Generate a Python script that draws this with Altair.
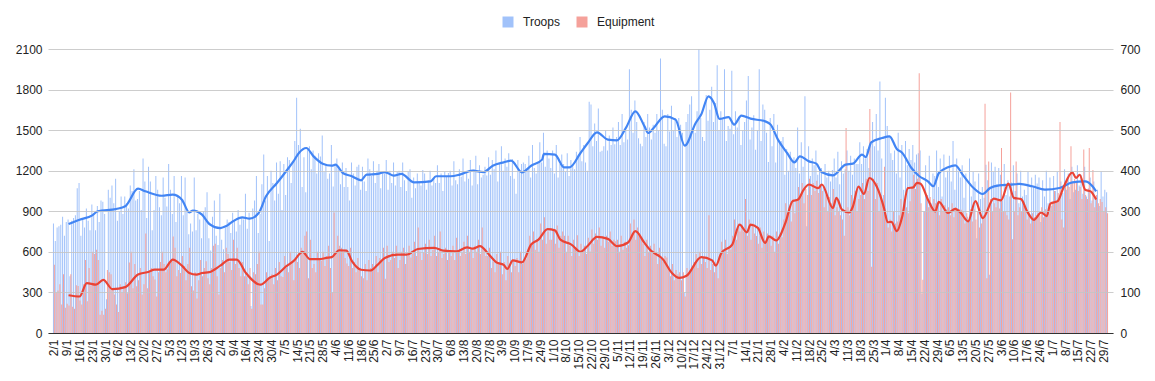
import altair as alt
import pandas as pd

# Daily values, 2 Jan 2024 .. 31 Jul 2025 (one row per week in the listing)
troops = [
    810, 680, 780, 790, 800, 860, 720,
    820, 840, 420, 830, 850, 870, 1070,
    1110, 720, 840, 780, 920, 830, 760,
    950, 870, 760, 940, 820, 980, 970,
    880, 250, 1060, 1000, 1090, 960, 1140,
    830, 900, 1010, 880, 1010, 960, 920,
    1090, 1050, 1210, 980, 990, 1050, 910,
    1290, 1120, 850, 1230, 1120, 760, 910,
    1160, 1060, 930, 870, 1150, 1000, 935,
    1250, 1060, 880, 1160, 820, 1010, 960,
    1160, 870, 1150, 900, 730, 810, 750,
    1150, 760, 880, 840, 700, 900, 930,
    1040, 700, 610, 860, 980, 720, 650,
    1030, 690, 620, 780, 840, 820, 740,
    890, 840, 750, 910, 800, 850, 840,
    1030, 770, 890, 200, 920, 980, 1160,
    740, 880, 1100, 1320, 980, 1160, 680,
    1200, 1110, 980, 1260, 1030, 1270, 910,
    1250, 1020, 1300, 1280, 1110, 1260, 1420,
    1740, 1390, 1510, 1080, 1300, 1040, 1355,
    1380, 1210, 1350, 1310, 1180, 1330, 1305,
    1460, 1190, 1250, 1140, 1180, 1390, 1084,
    1240, 1290, 1210, 1100, 1260, 1080, 1220,
    1080, 980, 1260, 1180, 1090, 1230, 1244,
    1060, 1230, 1120, 1050, 1290, 1210, 1160,
    1270, 1110, 1200, 1250, 1070, 1180, 1180,
    1280, 1060, 1200, 1110, 1260, 1090, 1190,
    1200, 1080, 1260, 1130, 1050, 1190, 1210,
    1000, 1150, 1070, 1180, 1110, 1090, 1205,
    1180, 1060, 1130, 1200, 1090, 1140, 1110,
    1240, 1110, 1180, 1050, 1190, 1160, 1183,
    1200, 1090, 1270, 1130, 1100, 1210, 1155,
    1290, 1120, 1200, 1140, 1280, 1090, 1210,
    1310, 1100, 1240, 1150, 1170, 1230, 1165,
    1300, 1170, 1280, 1210, 1350, 1120, 1250,
    1380, 1200, 1290, 1230, 1330, 1160, 1286,
    1140, 1030, 1280, 1190, 1250, 1260, 1250,
    1200, 1310, 1150, 1390, 1220, 1180, 1265,
    1410, 1260, 1480, 1230, 1350, 1290, 1220,
    1350, 1180, 1390, 1150, 1250, 1320, 1250,
    1190, 1330, 1160, 1280, 1240, 1210, 1340,
    1310, 1450, 1270, 1390, 1260, 1200, 1710,
    1690, 1380, 1550, 1420, 1660, 1340, 1348,
    1380, 1500, 1350, 1460, 1390, 1520, 1396,
    1450, 1560, 1390, 1620, 1410, 1500, 1430,
    1950, 1650, 1480, 1720, 1560, 1440, 1400,
    1380, 1560, 1450, 1620, 1520, 1430, 1540,
    1480, 1620, 1500, 2030, 1650, 1400, 1380,
    1620, 1490, 1680, 1500, 1590, 1450, 1590,
    1540, 1480, 300, 1560, 1620, 1690, 1750,
    1520, 1480, 1640, 2100, 1590, 1450, 1420,
    1760, 1570, 1650, 1820, 1560, 1700, 1980,
    1500, 1640, 1580, 1950, 1420, 1530, 1510,
    1940, 1470, 1640, 1520, 1600, 1390, 1500,
    1560, 1720, 1900, 1430, 1520, 1610, 1355,
    1500, 1950, 1420, 1690, 1650, 1480, 1265,
    1590, 1380, 1620, 1260, 1540, 1410, 1420,
    1450, 1170, 1360, 1200, 1340, 1280, 1300,
    1220, 1520, 1180, 1410, 1230, 1750, 790,
    1380, 1160, 1290, 1240, 1350, 1170, 1216,
    1220, 1080, 1250, 1150, 1200, 1120, 1205,
    1290, 1150, 1340, 1100, 1270, 1180, 1210,
    1350, 1200, 1310, 1170, 1290, 1250, 1250,
    1410, 1250, 1380, 1290, 1360, 1220, 1400,
    1560, 1380, 1620, 1350, 1860, 1290, 1020,
    1740, 1530, 1460, 1330, 1280, 1350, 1180,
    1480, 1150, 1390, 1060, 1420, 1240, 1360,
    1280, 1390, 1260, 1320, 1330, 1350, 290,
    900, 1240, 1020, 1310, 960, 1180, 1160,
    1350, 1080, 1290, 1010, 1320, 1150, 1200,
    1310, 1120, 1420, 1060, 1290, 1190, 1150,
    1240, 1000, 1180, 860, 1290, 1010, 1190,
    1120, 700, 1180, 990, 1080, 1000, 1245,
    1130, 430, 1260, 1190, 1230, 1100, 1220,
    1170, 980, 1250, 1020, 1130, 1010, 1112,
    1240, 1050, 1180, 960, 1200, 1010, 1060,
    1020, 1190, 880, 1150, 1080, 1170, 1105,
    1150, 820, 1130, 1010, 1200, 960, 1150,
    940, 1160, 1050, 1190, 980, 1120, 1036,
    1210, 1060, 1180, 990, 1230, 1040, 1060,
    1240, 1090, 1170, 1030, 1230, 1010, 1070,
    1150, 980, 1120, 1010, 1060, 940, 1195,
    1010, 1060, 1040,
]

equipment = [
    168, 100, 105, 120, 70, 145, 62,
    72, 68, 145, 65, 60, 118, 116,
    80, 70, 120, 180, 78, 160, 117,
    200, 195, 205, 180, 45, 55, 45,
    60, 155, 150, 145, 110, 95, 70,
    52, 120, 100, 115, 125, 98, 174,
    200, 110, 170, 115, 130, 160, 95,
    120, 245, 110, 150, 160, 140, 132,
    90, 150, 175, 200, 170, 150, 157,
    175, 180, 238, 210, 140, 155, 148,
    190, 165, 130, 170, 210, 115, 105,
    150, 85, 130, 180, 140, 160, 177,
    135, 120, 160, 215, 220, 140, 95,
    160, 180, 150, 210, 195, 175, 155,
    230, 170, 210, 160, 140, 175, 140,
    140, 120, 160, 60, 150, 145, 170,
    200, 70, 70, 110, 150, 135, 140,
    145, 120, 160, 130, 175, 140, 138,
    190, 160, 150, 200, 175, 130, 185,
    175, 160, 210, 195, 240, 250, 135,
    230, 160, 170, 150, 200, 185, 179,
    200, 165, 190, 215, 160, 100, 297,
    200, 240, 215, 210, 200, 185, 171,
    165, 210, 160, 175, 150, 185, 159,
    140, 135, 170, 130, 180, 160, 170,
    160, 190, 150, 185, 175, 210, 134,
    215, 175, 180, 200, 185, 215, 160,
    180, 200, 210, 170, 190, 215, 186,
    195, 225, 190, 260, 200, 180, 199,
    220, 195, 230, 190, 205, 240, 190,
    200, 250, 185, 195, 210, 180, 201,
    190, 215, 180, 235, 200, 190, 197,
    225, 195, 240, 200, 210, 185, 215,
    200, 230, 195, 260, 205, 190, 190,
    210, 160, 175, 150, 195, 170, 200,
    145, 175, 130, 190, 165, 150, 179,
    165, 185, 150, 200, 170, 180, 182,
    200, 240, 215, 250, 205, 230, 200,
    270, 230, 285, 220, 250, 230, 230,
    255, 220, 265, 210, 240, 250, 240,
    200, 240, 215, 190, 230, 210, 241,
    190, 220, 200, 215, 195, 235, 201,
    255, 220, 245, 230, 260, 215, 234,
    210, 240, 225, 250, 215, 230, 226,
    230, 200, 240, 205, 225, 210, 216,
    270, 240, 280, 230, 260, 245, 232,
    220, 190, 230, 200, 215, 195, 220,
    200, 170, 210, 185, 175, 190, 186,
    160, 140, 170, 130, 155, 145, 150,
    130, 150, 90, 160, 145, 155, 157,
    175, 195, 160, 200, 170, 185, 175,
    160, 290, 155, 170, 150, 165, 135,
    190, 225, 200, 230, 195, 210, 206,
    240, 280, 230, 270, 250, 265, 250,
    330, 240, 280, 230, 270, 245, 239,
    220, 260, 210, 250, 225, 245, 235,
    215, 240, 200, 250, 220, 235, 236,
    280, 320, 290, 310, 275, 330, 295,
    330, 360, 340, 370, 320, 355, 340,
    380, 340, 370, 350, 375, 345, 360,
    350, 310, 340, 300, 335, 320, 355,
    290, 310, 300, 290, 280, 240, 505,
    310, 290, 340, 320, 350, 300, 330,
    340, 370, 330, 380, 350, 552, 163,
    380, 330, 370, 300, 340, 320, 410,
    290, 260, 280, 250, 300, 270, 275,
    290, 330, 300, 320, 310, 295, 325,
    360, 390, 355, 380, 640, 320, 131,
    300, 340, 310, 335, 305, 330, 320,
    320, 290, 330, 300, 315, 305, 310,
    290, 320, 285, 310, 300, 305, 304,
    300, 270, 295, 280, 305, 275, 305,
    280, 300, 260, 270, 290, 565, 135,
    423, 330, 300, 320, 310, 330, 307,
    456, 300, 300, 290, 280, 593, 231,
    300, 423, 290, 310, 300, 315, 302,
    280, 300, 270, 295, 285, 290, 296,
    290, 310, 285, 305, 300, 295, 315,
    320, 350, 325, 345, 520, 280, 260,
    370, 380, 360, 460, 370, 380, 375,
    350, 360, 330, 452, 340, 330, 456,
    320, 402, 310, 340, 320, 330, 323,
    300, 310, 295,
]

# Trend lines, day index -> value
troops_trend_day = [
    8, 14, 21, 24, 34, 39, 46, 50, 59, 65, 70, 74, 76, 81, 85, 91, 94, 98, 103, 107,
    112, 116, 122, 127, 131, 134, 138, 142, 147, 152, 154, 158, 163, 168, 171, 177,
    181, 186, 190, 197, 206, 209, 217, 222, 229, 235, 240, 246, 250, 256, 261, 267,
    268, 274, 279, 282, 288, 292, 297, 303, 308, 313, 318, 323, 325, 328, 334, 340,
    345, 351, 354, 358, 361, 364, 369, 372, 376, 381, 389, 392, 396, 401, 405, 408,
    413, 417, 420, 426, 433, 437, 442, 444, 447, 453, 457, 461, 464, 469, 473, 478,
    481, 484, 489, 493, 497, 503, 508, 512, 517, 523, 528, 535, 542, 550, 557, 564,
    568, 570,
]
troops_trend = [
    806, 838, 870, 900, 917, 937, 1067, 1048, 1015, 1023, 986, 892, 905, 875, 806, 776,
    789, 826, 855, 845, 887, 1011, 1109, 1196, 1269, 1331, 1368, 1306, 1252, 1237,
    1245, 1183, 1159, 1129, 1171, 1176, 1190, 1163, 1176, 1114, 1121, 1159, 1159, 1171,
    1200, 1190, 1237, 1262, 1274, 1188, 1237, 1282, 1324, 1319, 1225, 1225, 1331, 1405,
    1484, 1430, 1425, 1521, 1639, 1528, 1479, 1516, 1602, 1578, 1385, 1553, 1615, 1750,
    1701, 1583, 1597, 1541, 1607, 1585, 1565, 1541, 1430, 1331, 1262, 1306, 1269, 1252,
    1188, 1166, 1245, 1252, 1319, 1301, 1410, 1442, 1454, 1361, 1331, 1220, 1163, 1121,
    1085, 1183, 1225, 1240, 1171, 1072, 1028, 1072, 1092, 1097, 1102, 1085, 1060, 1072,
    1114, 1121, 1085, 1048,
]
equip_trend_day = [
    8, 14, 18, 23, 27, 32, 39, 46, 52, 55, 60, 65, 70, 74, 78, 81, 85, 91, 96, 100,
    105, 113, 118, 122, 127, 131, 136, 140, 145, 149, 152, 156, 160, 163, 168, 173,
    177, 181, 188, 193, 199, 208, 213, 220, 226, 229, 233, 238, 242, 246, 248, 251,
    256, 261, 265, 270, 274, 277, 283, 288, 292, 297, 303, 308, 314, 318, 323, 326,
    333, 338, 342, 346, 354, 360, 362, 365, 371, 375, 379, 381, 385, 389, 391, 395,
    400, 404, 407, 410, 413, 418, 420, 426, 428, 431, 435, 437, 440, 443, 446, 450,
    454, 456, 458, 461, 464, 467, 470, 472, 474, 478, 482, 484, 489, 493, 496, 500,
    504, 508, 514, 518, 522, 525, 529, 532, 536, 540, 543, 545, 549, 552, 557, 559,
    561, 564, 567, 570,
]
equip_trend = [
    93, 90, 123, 119, 131, 108, 113, 144, 151, 156, 156, 181, 166, 148, 144, 148, 150,
    166, 181, 181, 148, 119, 136, 144, 164, 177, 200, 182, 182, 185, 187, 204, 203, 177,
    156, 154, 168, 185, 193, 193, 207, 210, 203, 201, 211, 208, 214, 193, 174, 168, 158,
    179, 174, 218, 230, 256, 253, 230, 218, 200, 215, 237, 232, 214, 223, 251, 222, 205,
    182, 148, 136, 141, 187, 179, 166, 197, 218, 267, 248, 267, 259, 222, 238, 228, 271,
    325, 329, 353, 366, 357, 366, 308, 333, 304, 297, 312, 361, 343, 382, 361, 308, 273,
    274, 251, 288, 357, 359, 370, 368, 329, 300, 323, 296, 306, 296, 275, 325, 283, 331,
    327, 368, 333, 330, 302, 279, 297, 288, 319, 325, 357, 396, 382, 390, 353, 349, 329,
]

series_names = ["Troops", "Equipment"]
bar_colors = ["#a1c2fa", "#f5a19a"]
line_colors = ["#4285f4", "#ea4335"]
left_ticks = [0, 300, 600, 900, 1200, 1500, 1800, 2100]
right_ticks = [0, 100, 200, 300, 400, 500, 600, 700]

n = len(troops)
bars = pd.DataFrame({
    "day": list(range(n)) * 2,
    "series": ["Troops"] * n + ["Equipment"] * n,
    "value": troops + equipment,
})
tt = pd.DataFrame({"day": troops_trend_day, "value": troops_trend})
et = pd.DataFrame({"day": equip_trend_day, "value": equip_trend})

FONT = "Liberation Sans"

x = alt.X(
    "day:Q",
    title=None,
    scale=alt.Scale(domain=[-0.5, n - 0.5], nice=False, zero=False),
    axis=alt.Axis(
        values=list(range(0, n, 7)),
        labelExpr="timeFormat(datetime(2024, 0, 2 + datum.value), '%-d/%-m')",
        labelAngle=270,
        labelFontSize=12,
        labelColor="#222222",
        labelPadding=6,
        ticks=False,
        grid=False,
        domain=True,
        domainColor="#333333",
        labelOverlap=False,
        labelFlush=False,
        zindex=1,
    ),
)

color = alt.Color(
    "series:N",
    scale=alt.Scale(domain=series_names, range=bar_colors),
    legend=alt.Legend(
        title=None,
        orient="none",
        legendX=454,
        legendY=-33,
        direction="horizontal",
        symbolType="square",
        symbolSize=121,
        symbolStrokeWidth=0,
        labelFontSize=12,
        labelColor="#222222",
        labelOffset=9,
        columnPadding=16,
        padding=0,
    ),
)

blue_bars = alt.Chart(bars).transform_filter("datum.series == 'Troops'").mark_bar(
    width=1.0, xOffset=-0.46
).encode(
    x=x,
    y=alt.Y(
        "value:Q",
        title=None,
        scale=alt.Scale(domain=[0, 2100], nice=False),
        axis=alt.Axis(
            orient="left", values=left_ticks, format="d", grid=True,
            gridColor="#c4c4c4", gridOpacity=0.85,
            domain=False, ticks=False, labelFontSize=12, labelColor="#222222",
            labelPadding=6, zindex=1,
        ),
    ),
    color=color,
)

red_bars = alt.Chart(bars).transform_filter("datum.series == 'Equipment'").mark_bar(
    width=1.0, xOffset=0.46
).encode(
    x=x,
    y=alt.Y(
        "value:Q",
        title=None,
        scale=alt.Scale(domain=[0, 700], nice=False),
        axis=alt.Axis(
            orient="right", values=right_ticks, format="d", grid=False,
            domain=False, ticks=False, labelFontSize=12, labelColor="#222222",
            labelPadding=7,
        ),
    ),
    color=color,
)

blue_line = alt.Chart(tt).mark_line(
    color=line_colors[0], strokeWidth=2.2, interpolate="monotone"
).encode(
    x=x,
    y=alt.Y("value:Q", scale=alt.Scale(domain=[0, 2100], nice=False), axis=None),
)

red_line = alt.Chart(et).mark_line(
    color=line_colors[1], strokeWidth=2.2, interpolate="monotone"
).encode(
    x=x,
    y=alt.Y("value:Q", scale=alt.Scale(domain=[0, 700], nice=False), axis=None),
)

chart = alt.layer(blue_bars, red_bars, blue_line, red_line).resolve_scale(
    y="independent"
).properties(
    width=1065,
    height=284,
    autosize=alt.AutoSizeParams(type="none"),
    padding={"left": 40, "top": 41, "right": 34, "bottom": 40},
).configure(
    font=FONT,
).configure_view(
    stroke=None,
)

chart.save("out.html", embed_options={"renderer": "svg", "actions": False})
